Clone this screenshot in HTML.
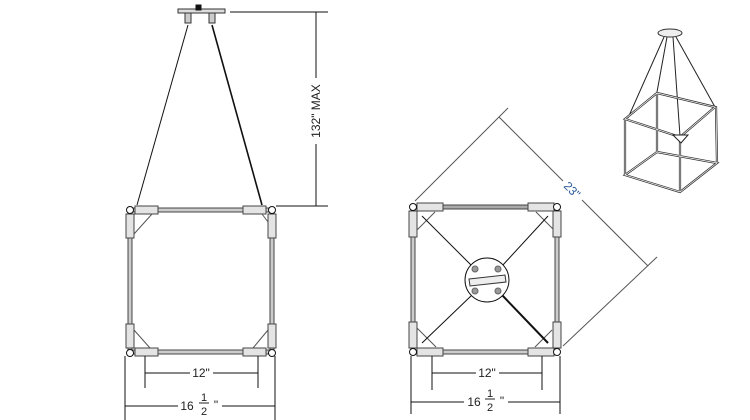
<!DOCTYPE html>
<html><head><style>body{margin:0;background:#fff}svg{display:block}</style></head><body>
<svg width="750" height="420" viewBox="0 0 750 420" xmlns="http://www.w3.org/2000/svg" font-family="Liberation Sans, sans-serif">
<g fill="none" stroke="#111" stroke-width="1">
<rect x="178" y="9" width="47" height="4" fill="#ddd" stroke="#333"/>
<rect x="196" y="5" width="5" height="5" fill="#111"/>
<rect x="185" y="13" width="6" height="10" fill="#ccc" stroke="#333"/>
<rect x="209" y="13" width="6" height="10" fill="#ccc" stroke="#333"/>
<line x1="188" y1="25" x2="137" y2="205"/>
<line x1="212" y1="25" x2="262" y2="205" stroke-width="1.6"/>
<rect x="130" y="208" width="142" height="4" fill="#ccc" stroke="#444"/>
<rect x="130" y="350" width="142" height="4" fill="#ccc" stroke="#444"/>
<rect x="128" y="210" width="4" height="143" fill="#ccc" stroke="#444"/>
<rect x="270" y="210" width="4" height="143" fill="#ccc" stroke="#444"/>
<g fill="#e4e4e4" stroke="#444">
<rect x="135" y="206" width="23" height="8"/><rect x="243" y="206" width="23" height="8"/>
<rect x="135" y="348" width="23" height="8"/><rect x="243" y="348" width="23" height="8"/>
<rect x="126" y="214" width="8" height="24"/><rect x="268" y="214" width="8" height="24"/>
<rect x="126" y="324" width="8" height="24"/><rect x="268" y="324" width="8" height="24"/>
</g>
<path d="M134 234 L152 214 M262 214 L268 222 M134 330 L150 348 M268 330 L253 348" stroke="#555"/>
<g fill="#fff"><circle cx="130" cy="210" r="3.5"/><circle cx="272" cy="210" r="3.5"/><circle cx="130" cy="353" r="3.5"/><circle cx="272" cy="353" r="3.5"/></g>
<line x1="230" y1="12" x2="328" y2="12"/><line x1="276" y1="206" x2="328" y2="206"/>
<line x1="316" y1="12" x2="316" y2="78"/><line x1="316" y1="144" x2="316" y2="206"/>
<line x1="145" y1="356" x2="145" y2="388"/><line x1="258" y1="356" x2="258" y2="388"/>
<line x1="145" y1="373" x2="190" y2="373"/><line x1="213" y1="373" x2="258" y2="373"/>
<line x1="125" y1="356" x2="125" y2="420"/><line x1="275" y1="356" x2="275" y2="420"/>
<line x1="125" y1="406" x2="178" y2="406"/><line x1="222" y1="406" x2="275" y2="406"/>
<rect x="413" y="205" width="144" height="4" fill="#aaa" stroke="#444"/>
<rect x="413" y="350" width="144" height="4" fill="#ccc" stroke="#444"/>
<rect x="411" y="207" width="4" height="145" fill="#ccc" stroke="#444"/>
<rect x="555" y="207" width="4" height="145" fill="#ccc" stroke="#444"/>
<g fill="#e4e4e4" stroke="#444">
<rect x="417" y="203" width="26" height="8"/><rect x="528" y="203" width="26" height="8"/>
<rect x="417" y="348" width="26" height="8"/><rect x="528" y="348" width="26" height="8"/>
<rect x="409" y="211" width="8" height="26"/><rect x="553" y="211" width="8" height="26"/>
<rect x="409" y="322" width="8" height="26"/><rect x="553" y="322" width="8" height="26"/>
</g>
<path d="M417 230 L435 212 M536 212 L553 229 M417 328 L436 347 M552 330 L535 347" stroke="#555"/>
<line x1="422" y1="216" x2="472" y2="266"/><line x1="548" y1="216" x2="502" y2="266"/>
<line x1="422" y1="343" x2="472" y2="295"/><line x1="548" y1="343" x2="502" y2="295" stroke-width="2"/>
<circle cx="487" cy="280" r="22" fill="#fff"/>
<g fill="#999" stroke="#666"><circle cx="475" cy="269" r="3"/><circle cx="498" cy="269" r="3"/><circle cx="475" cy="291" r="3"/><circle cx="498" cy="291" r="3"/></g>
<polygon points="469,279 505,275 506,282 470,286" fill="#eee" stroke="#333"/>
<g fill="#fff"><circle cx="413" cy="207" r="3.5"/><circle cx="557" cy="207" r="3.5"/><circle cx="413" cy="352" r="3.5"/><circle cx="557" cy="352" r="3.5"/></g>
<g stroke="#555"><line x1="415" y1="201" x2="508" y2="108"/><line x1="563" y1="346" x2="657" y2="257"/>
<line x1="499" y1="117" x2="563" y2="181"/><line x1="582" y1="200" x2="648" y2="266"/></g>
<line x1="432" y1="356" x2="432" y2="390"/><line x1="542" y1="356" x2="542" y2="390"/>
<line x1="432" y1="373" x2="476" y2="373"/><line x1="499" y1="373" x2="542" y2="373"/>
<line x1="411" y1="356" x2="411" y2="414"/><line x1="560" y1="356" x2="560" y2="414"/>
<line x1="411" y1="402" x2="464" y2="402"/><line x1="508" y1="402" x2="560" y2="402"/>
<ellipse cx="670" cy="33" rx="12" ry="4" fill="#eee" stroke="#333"/>
<g stroke="#222"><line x1="664" y1="37" x2="628" y2="118"/><line x1="667" y1="37" x2="657" y2="92"/><line x1="673" y1="37" x2="680" y2="136"/><line x1="676" y1="37" x2="715" y2="107"/></g>
<g stroke="#333" stroke-width="2.2">
<polygon points="657,93 715,107 680,137 625,119"/>
<polygon points="657,152 717,163 680,192 625,175"/>
<line x1="657" y1="93" x2="657" y2="152"/><line x1="716" y1="107" x2="717" y2="163"/><line x1="680" y1="137" x2="680" y2="192"/><line x1="625" y1="119" x2="625" y2="175"/>
</g>
<g stroke="#fff" stroke-width="0.7">
<polygon points="657,93 715,107 680,137 625,119"/>
<polygon points="657,152 717,163 680,192 625,175"/>
<line x1="657" y1="93" x2="657" y2="152"/><line x1="716" y1="107" x2="717" y2="163"/><line x1="680" y1="137" x2="680" y2="192"/><line x1="625" y1="119" x2="625" y2="175"/>
</g>
<polygon points="673,135 688,135 681,143" fill="#fff" stroke="#222"/>
</g>
<g font-size="12" fill="#222" text-anchor="middle">
<text x="320" y="111" transform="rotate(-90 320 111)">132" MAX</text>
<text x="201" y="377">12"</text>
<text x="187" y="410">16</text><text x="204" y="401" font-size="11">1</text><line x1="199" y1="403" x2="209" y2="403" stroke="#222"/><text x="204" y="415" font-size="11">2</text><text x="216" y="409">"</text>
<text x="487" y="377">12"</text>
<text x="474" y="406">16</text><text x="490" y="397" font-size="11">1</text><line x1="485" y1="399" x2="495" y2="399" stroke="#222"/><text x="490" y="411" font-size="11">2</text><text x="502" y="405">"</text>
<text x="572" y="194" fill="#2a5a9a" transform="rotate(45 572 190)">23"</text>
</g>
</svg>
</body></html>
